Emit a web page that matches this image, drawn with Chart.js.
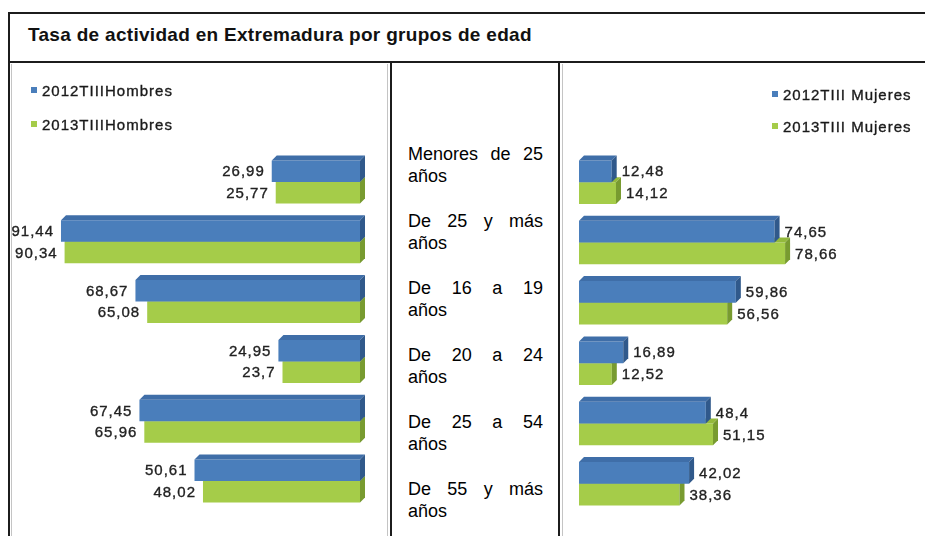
<!DOCTYPE html>
<html lang="es">
<head>
<meta charset="UTF-8" />
<title>Tasa de actividad en Extremadura por grupos de edad</title>
<script src="https://cdn.jsdelivr.net/npm/chart.js"></script>
<style>
  html, body { margin: 0; padding: 0; background: #fff; }
  body {
    width: 925px; height: 536px; position: relative; overflow: hidden;
    font-family: Arial, "Liberation Sans", sans-serif;
  }
  .rule { position: absolute; background: #1c1c1c; }
  .soft { position: absolute; background: #c4c4c4; }
  .title {
    position: absolute; left: 28px; top: 25px; line-height: 19px;
    font-size: 19px; letter-spacing: 0.3px; font-weight: bold; color: #111; white-space: nowrap;
  }
  canvas { position: absolute; }
  .legend {
    position: absolute; font-size: 15px; letter-spacing: 1px; color: #1a1a1a;
    -webkit-text-stroke: 0.35px #1a1a1a;
  }
  .legend div { position: absolute; white-space: nowrap; line-height: 18px; }
  .legend span {
    display: inline-block; width: 6px; height: 6px; margin-right: 5px;
    vertical-align: 3px; -webkit-text-stroke: 0;
  }
  .age { position: absolute; left: 408px; width: 135px; font-size: 18px; line-height: 22px; color: #000; }
  .age .l1 { text-align: justify; text-align-last: justify; }
</style>
</head>
<body>
  <div class="rule" style="left:8px; top:12px; width:917px; height:2px"></div>
  <div class="rule" style="left:8px; top:12px; width:2px; height:524px"></div>
  <div class="rule" style="left:8px; top:61px; width:917px; height:2px"></div>
  <div class="rule" style="left:390px; top:61px; width:2px; height:475px"></div>
  <div class="rule" style="left:558px; top:61px; width:2px; height:475px"></div>
  <div class="soft" style="left:11px; top:64px; width:1px; height:472px"></div>
  <div class="soft" style="left:387px; top:64px; width:1px; height:472px"></div>
  <div class="soft" style="left:562px; top:64px; width:1px; height:472px"></div>

  <div class="title">Tasa de actividad en Extremadura por grupos de edad</div>

  <canvas id="hombresChart" width="377" height="472" style="left:10px; top:64px"></canvas>
  <canvas id="mujeresChart" width="362" height="472" style="left:563px; top:64px"></canvas>

  <div class="legend" id="legendHombres"></div>
  <div class="legend" id="legendMujeres"></div>
  <div id="ageColumn"></div>

<script>
const categories = [
  "Menores de 25 años",
  "De 25 y más años",
  "De 16 a 19 años",
  "De 20 a 24 años",
  "De 25 a 54 años",
  "De 55 y más años",
];
const seriesHombres = ["2012TIIIHombres", "2013TIIIHombres"];
const seriesMujeres = ["2012TIII Mujeres", "2013TIII Mujeres"];
const hombres2012 = [26.99, 91.44, 68.67, 24.95, 67.45, 50.61];
const hombres2013 = [25.77, 90.34, 65.08, 23.7, 65.96, 48.02];
const mujeres2012 = [12.48, 74.65, 59.86, 16.89, 48.4, 42.02];
const mujeres2013 = [14.12, 78.66, 56.56, 12.52, 51.15, 38.36];

const BLUE = "#4a7ebb", BLUE_TOP = "#3f6ea8", BLUE_SIDE = "#30598b";
const GREEN = "#a5cc49", GREEN_TOP = "#93b93c", GREEN_SIDE = "#789b30";
const DX = 5, DY = -5;

function fmt(v) {
  return String(v).replace(".", ",");
}

// caras superior y lateral para el efecto 3D
const bars3d = {
  id: "bars3d",
  afterDatasetDraw(chart, args) {
    const ctx = chart.ctx;
    const top = args.index === 0 ? BLUE_TOP : GREEN_TOP;
    const side = args.index === 0 ? BLUE_SIDE : GREEN_SIDE;
    ctx.save();
    args.meta.data.forEach((bar) => {
      const p = bar.getProps(["x", "y", "base", "height"], true);
      const y0 = p.y - p.height / 2, y1 = p.y + p.height / 2;
      const l = Math.min(p.x, p.base), r = Math.max(p.x, p.base);
      ctx.fillStyle = top;
      ctx.beginPath();
      ctx.moveTo(l, y0);
      ctx.lineTo(l + DX, y0 + DY);
      ctx.lineTo(r + DX, y0 + DY);
      ctx.lineTo(r, y0);
      ctx.closePath();
      ctx.fill();
      ctx.fillStyle = side;
      ctx.beginPath();
      ctx.moveTo(r, y0);
      ctx.lineTo(r + DX, y0 + DY);
      ctx.lineTo(r + DX, y1 + DY);
      ctx.lineTo(r, y1);
      ctx.closePath();
      ctx.fill();
    });
    ctx.restore();
  },
};

const valueLabels = {
  id: "valueLabels",
  afterDatasetsDraw(chart, args, opts) {
    const ctx = chart.ctx;
    ctx.save();
    ctx.font = "15px Arial, 'Liberation Sans', sans-serif";
    ctx.letterSpacing = "1px";
    ctx.fillStyle = "#222";
    ctx.strokeStyle = "#222";
    ctx.lineWidth = 0.35;
    ctx.textBaseline = "middle";
    chart.data.datasets.forEach((ds, i) => {
      chart.getDatasetMeta(i).data.forEach((bar, j) => {
        const txt = fmt(ds.data[j]);
        let x;
        if (opts.side === "left") {
          ctx.textAlign = "right";
          x = bar.x - 7;
        } else {
          ctx.textAlign = "left";
          x = bar.x + DX + 5;
        }
        ctx.fillText(txt, x, bar.y + 1);
        ctx.strokeText(txt, x, bar.y + 1);
      });
    });
    ctx.restore();
  },
};

function makeChart(id, names, d1, d2, side, padding) {
  return new Chart(document.getElementById(id), {
    type: "bar",
    data: {
      labels: categories,
      datasets: [
        { label: names[0], data: d1, backgroundColor: BLUE },
        { label: names[1], data: d2, backgroundColor: GREEN },
      ],
    },
    options: {
      indexAxis: "y",
      responsive: false,
      animation: false,
      devicePixelRatio: 1,
      layout: { padding: padding },
      datasets: {
        bar: { barPercentage: 1, categoryPercentage: 0.72, borderWidth: 0 },
      },
      scales: {
        x: { display: false, min: 0, max: 100, reverse: side === "left" },
        y: { display: false },
      },
      plugins: {
        legend: { display: false },
        tooltip: { enabled: false },
        valueLabels: { side: side },
      },
    },
    plugins: [bars3d, valueLabels],
  });
}

makeChart("hombresChart", seriesHombres, hombres2012, hombres2013, "left",
  { left: 23, right: 27, top: 88, bottom: 25 });
makeChart("mujeresChart", seriesMujeres, mujeres2012, mujeres2013, "right",
  { left: 16, right: 84, top: 88, bottom: 22 });

function buildLegend(id, names, x, ys) {
  const box = document.getElementById(id);
  [BLUE, GREEN].forEach((c, i) => {
    const item = document.createElement("div");
    item.style.left = x + "px";
    item.style.top = ys[i] - 9 + "px";
    item.innerHTML = '<span style="background:' + c + '"></span>' + names[i];
    box.appendChild(item);
  });
}
buildLegend("legendHombres", seriesHombres, 31, [91, 125]);
buildLegend("legendMujeres", seriesMujeres, 772, [95, 127]);

const ageColumn = document.getElementById("ageColumn");
categories.forEach((c, i) => {
  const cut = c.lastIndexOf(" ");
  const el = document.createElement("div");
  el.className = "age";
  el.style.top = 143 + i * 67 + "px";
  el.innerHTML = '<div class="l1">' + c.slice(0, cut) + "</div><div>" + c.slice(cut + 1) + "</div>";
  ageColumn.appendChild(el);
});
</script>
</body>
</html>
